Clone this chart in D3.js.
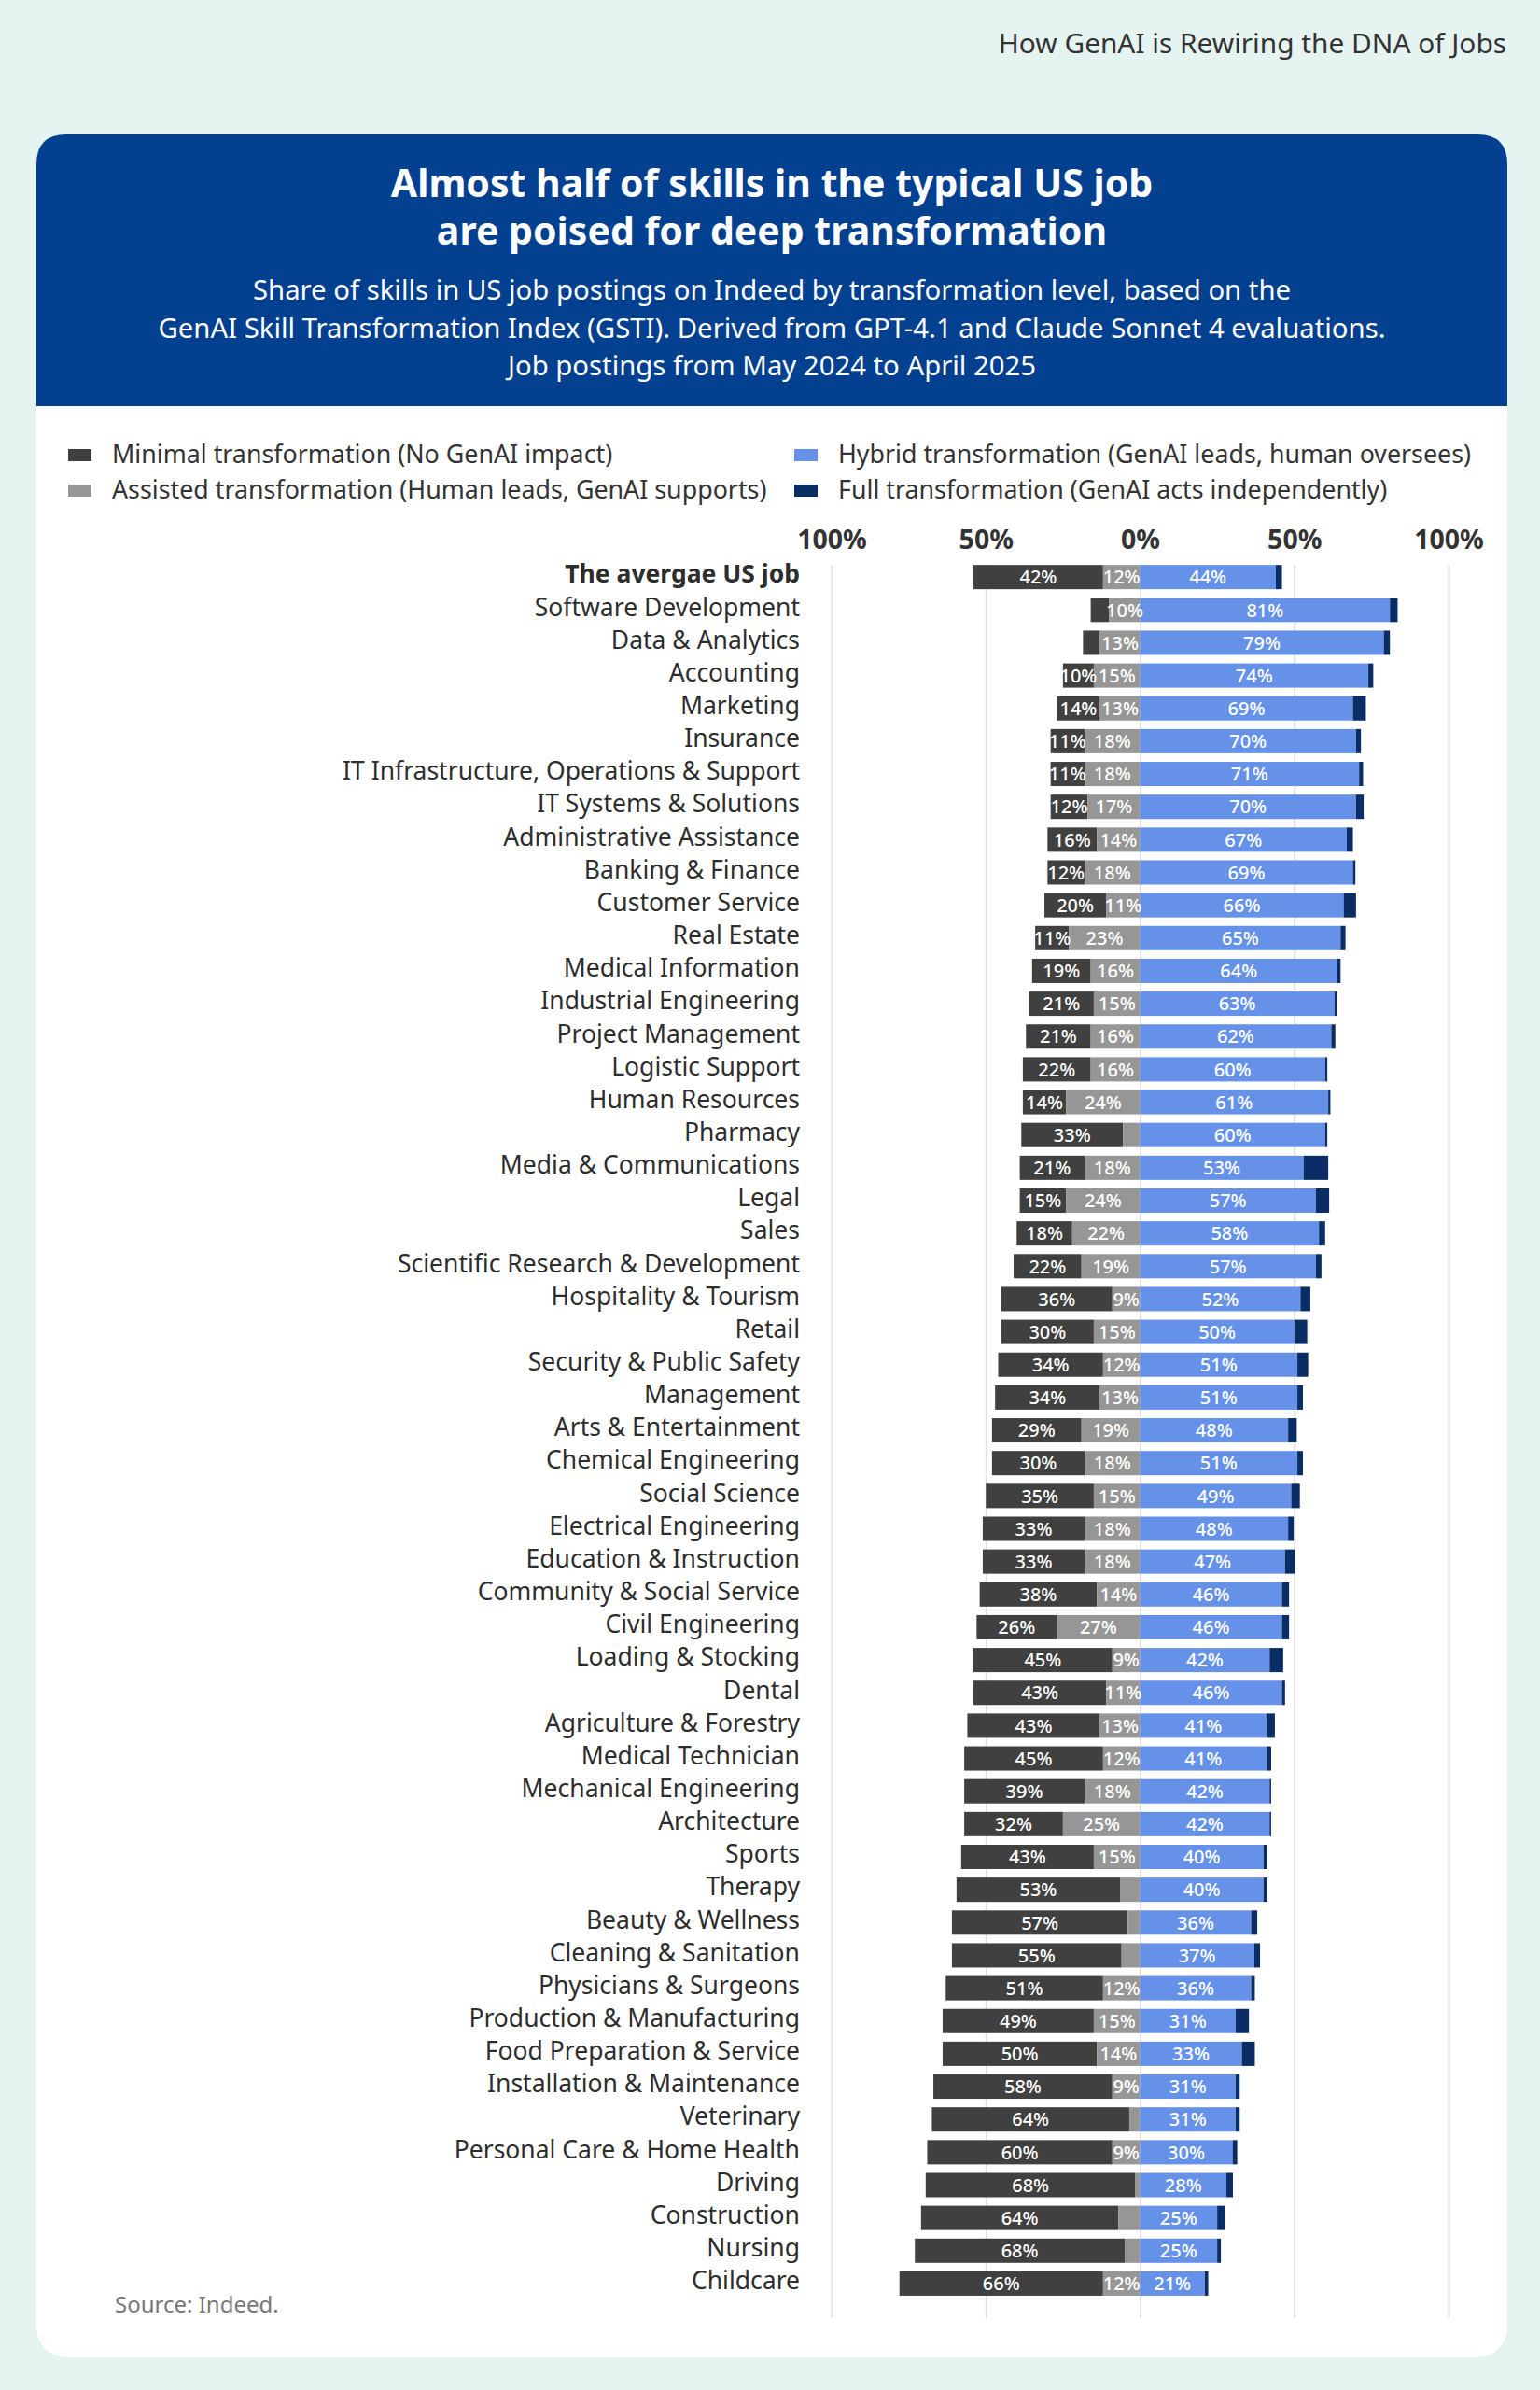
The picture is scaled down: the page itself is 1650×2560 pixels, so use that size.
<!DOCTYPE html>
<html>
<head>
<meta charset="utf-8">
<script src="https://cdn.jsdelivr.net/npm/d3@7"></script>
<style>
	body { margin: 0; background: #e6f4f1; }
	svg { display: block; font-family: "Noto Sans", "Open Sans", sans-serif; }
</style>
</head>
<body>
<div id="chart"></div>
<script>
const categories = [
	"The avergae US job", "Software Development", "Data & Analytics", "Accounting", "Marketing",
	"Insurance", "IT Infrastructure, Operations & Support", "IT Systems & Solutions",
	"Administrative Assistance", "Banking & Finance", "Customer Service", "Real Estate",
	"Medical Information", "Industrial Engineering", "Project Management", "Logistic Support",
	"Human Resources", "Pharmacy", "Media & Communications", "Legal", "Sales",
	"Scientific Research & Development", "Hospitality & Tourism", "Retail",
	"Security & Public Safety", "Management", "Arts & Entertainment", "Chemical Engineering",
	"Social Science", "Electrical Engineering", "Education & Instruction",
	"Community & Social Service", "Civil Engineering", "Loading & Stocking", "Dental",
	"Agriculture & Forestry", "Medical Technician", "Mechanical Engineering", "Architecture",
	"Sports", "Therapy", "Beauty & Wellness", "Cleaning & Sanitation", "Physicians & Surgeons",
	"Production & Manufacturing", "Food Preparation & Service", "Installation & Maintenance",
	"Veterinary", "Personal Care & Home Health", "Driving", "Construction", "Nursing", "Childcare"
];
const minimal  = [42,6,5.5,10,14,11,11,12,16,12,20,11,19,21,21,22,14,33,21,15,18,22,36,30,34,34,29,30,35,33,33,38,26,45,43,43,45,39,32,43,53,57,55,51,49,50,58,64,60,68,64,68,66];
const assisted = [12,10,13,15,13,18,18,17,14,18,11,23,16,15,16,16,24,5.5,18,24,22,19,9,15,12,13,19,18,15,18,18,14,27,9,11,13,12,18,25,15,6.5,4,6,12,15,14,9,3.5,9,1.5,7,5,12];
const hybrid   = [44,81,79,74,69,70,71,70,67,69,66,65,64,63,62,60,61,60,53,57,58,57,52,50,51,51,48,51,49,48,47,46,46,42,46,41,41,42,42,40,40,36,37,36,31,33,31,31,30,28,25,25,21];
const full     = [2,2.5,2,1.6,4.2,1.6,1.3,2.5,2,0.8,4,1.6,1,0.8,1.3,0.7,0.7,0.7,8,4.3,2,1.8,3.2,4.2,3.5,1.8,2.8,1.8,2.8,1.8,3.2,2.3,2.3,4.4,1,2.7,1.5,0.5,0.5,1.2,1.2,2,1.9,1.2,4.3,4.2,1.3,1.3,1.5,2.1,2.4,1.2,1.1];
const tickValues = [-100, -50, 0, 50, 100];

const seriesNames = [
	"Minimal transformation (No GenAI impact)",
	"Assisted transformation (Human leads, GenAI supports)",
	"Hybrid transformation (GenAI leads, human oversees)",
	"Full transformation (GenAI acts independently)"
];
const colors = ["#404040", "#969696", "#6592e8", "#0b2d66"];

const width = 1650, height = 2560;
const svg = d3.select("#chart").append("svg")
	.attr("width", width)
	.attr("height", height);

svg.append("rect").attr("width", width).attr("height", height).attr("fill", "#e6f4f1");

// top right running title
svg.append("text")
	.attr("x", 1614).attr("y", 57)
	.attr("text-anchor", "end")
	.attr("font-size", 29.8)
	.attr("fill", "#333")
	.text("How GenAI is Rewiring the DNA of Jobs");

// card + header
const cardX = 39, cardY = 144, cardW = 1576, cardH = 2381, r = 32;
svg.append("rect")
	.attr("x", cardX).attr("y", cardY).attr("width", cardW).attr("height", cardH)
	.attr("rx", r).attr("fill", "#fff");
const headerH = 291;
svg.append("path")
	.attr("d", `M${cardX},${cardY + headerH} V${cardY + r} Q${cardX},${cardY} ${cardX + r},${cardY}
		H${cardX + cardW - r} Q${cardX + cardW},${cardY} ${cardX + cardW},${cardY + r} V${cardY + headerH} Z`)
	.attr("fill", "#03408f");

const titleLines = ["Almost half of skills in the typical US job", "are poised for deep transformation"];
svg.append("g").selectAll("text")
	.data(titleLines)
	.enter().append("text")
	.attr("x", 827).attr("y", (d, i) => 211 + i * 51)
	.attr("text-anchor", "middle")
	.attr("font-size", 41).attr("font-weight", 700)
	.attr("fill", "#fff")
	.text(d => d);

const subLines = [
	"Share of skills in US job postings on Indeed by transformation level, based on the",
	"GenAI Skill Transformation Index (GSTI). Derived from GPT-4.1 and Claude Sonnet 4 evaluations.",
	"Job postings from May 2024 to April 2025"
];
svg.append("g").selectAll("text")
	.data(subLines)
	.enter().append("text")
	.attr("x", 827).attr("y", (d, i) => 321 + i * 40.5)
	.attr("text-anchor", "middle")
	.attr("font-size", 29.3)
	.attr("fill", "#fff")
	.text(d => d);

// legend
const legendPos = [[73, 487], [73, 525], [851, 487], [851, 525]];
const legend = svg.append("g").selectAll("g")
	.data(seriesNames)
	.enter().append("g")
	.attr("transform", (d, i) => `translate(${legendPos[i][0]}, ${legendPos[i][1]})`);
legend.append("rect")
	.attr("x", 0).attr("y", -6).attr("width", 25).attr("height", 13)
	.attr("fill", (d, i) => colors[i]);
legend.append("text")
	.attr("x", 47).attr("dy", "0.35em")
	.attr("font-size", 26.8).attr("fill", "#333")
	.text(d => d);

// scales
const x = d3.scaleLinear().domain([-100, 100]).range([891, 1552]);
const y = d3.scaleBand().domain(categories)
	.range([596, 596 + 35.15 * (categories.length + 0.26)])
	.paddingInner(0.26).paddingOuter(0.26);

// gridlines
svg.append("g")
	.attr("transform", "translate(0, 605)")
	.call(d3.axisBottom(x).tickValues(tickValues).tickSize(1878).tickFormat(""))
	.call(g => g.select(".domain").remove())
	.call(g => g.selectAll(".tick line").attr("stroke", d => d === 0 ? "#e6dede" : "#e2e2e2").attr("stroke-width", 2));

// tick labels
svg.append("g")
	.attr("transform", "translate(0, 588)")
	.call(d3.axisTop(x).tickValues(tickValues).tickSize(0).tickPadding(0).tickFormat(d => Math.abs(d) + "%"))
	.call(g => g.select(".domain").remove())
	.call(g => g.selectAll(".tick text")
		.attr("font-family", "Noto Sans, sans-serif")
		.attr("font-size", 28.5).attr("font-weight", 700).attr("fill", "#333")
		.attr("dy", 0));

// segments
const rows = categories.map((c, i) => ({
	name: c,
	segs: [
		{ k: 0, v: minimal[i], x0: -(assisted[i] + minimal[i]), x1: -assisted[i] },
		{ k: 1, v: assisted[i], x0: -assisted[i], x1: 0 },
		{ k: 2, v: hybrid[i], x0: 0, x1: hybrid[i] },
		{ k: 3, v: full[i], x0: hybrid[i], x1: hybrid[i] + full[i] }
	]
}));

const rowG = svg.append("g").selectAll("g")
	.data(rows)
	.enter().append("g")
	.attr("transform", d => `translate(0, ${y(d.name)})`);

rowG.selectAll("rect")
	.data(d => d.segs)
	.enter().append("rect")
	.attr("x", d => x(d.x0))
	.attr("width", d => x(d.x1) - x(d.x0))
	.attr("height", y.bandwidth())
	.attr("fill", d => colors[d.k]);

rowG.selectAll("text.val")
	.data(d => d.segs.filter(s => s.k < 3 && s.v >= 9))
	.enter().append("text")
	.attr("class", "val")
	.attr("x", d => x((d.x0 + d.x1) / 2))
	.attr("y", y.bandwidth() / 2)
	.attr("dy", "0.36em")
	.attr("text-anchor", "middle")
	.attr("font-size", 20).attr("font-weight", 500)
	.attr("fill", "#fff")
	.text(d => Math.round(d.v) + "%");

// category labels
svg.append("g").selectAll("text")
	.data(categories)
	.enter().append("text")
	.attr("x", 857)
	.attr("y", d => y(d) + y.bandwidth() / 2 - 3)
	.attr("dy", "0.35em")
	.attr("text-anchor", "end")
	.attr("font-size", 26.5)
	.attr("font-weight", (d, i) => i === 0 ? 700 : 400)
	.attr("fill", "#2d2d2d")
	.text(d => d);

// source
svg.append("text")
	.attr("x", 123).attr("y", 2477)
	.attr("font-size", 24).attr("fill", "#777")
	.text("Source: Indeed.");
</script>
</body>
</html>
